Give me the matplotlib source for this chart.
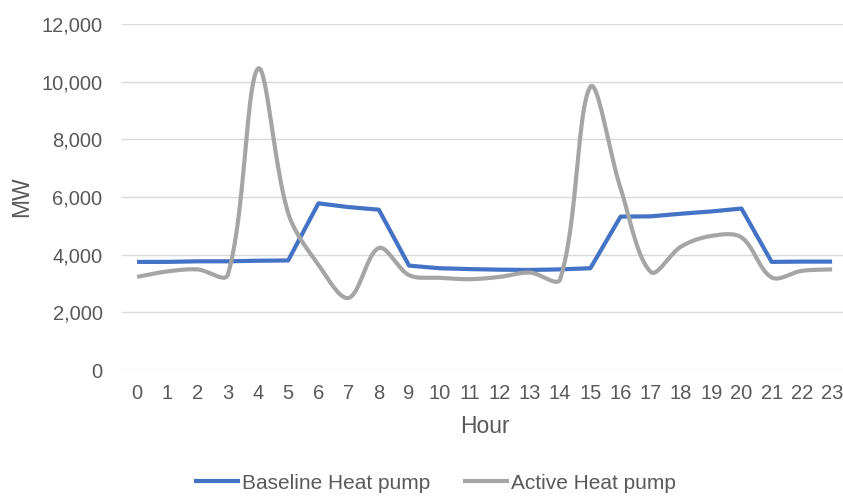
import numpy as np
import matplotlib
matplotlib.use("Agg")
import matplotlib.pyplot as plt
from matplotlib.ticker import FuncFormatter

hours = list(range(24))
baseline = [3750, 3750, 3770, 3770, 3790, 3800, 5780, 5650, 5560, 3620, 3530, 3500,
            3480, 3470, 3490, 3530, 5320, 5330, 5420, 5500, 5600, 3750, 3760, 3760]
active = [3230, 3420, 3490, 3300, 10450, 5440, 3650, 2500, 4230, 3290, 3200, 3150,
          3230, 3380, 3150, 9820, 6300, 3400, 4280, 4650, 4600, 3210, 3440, 3490]

BLUE = "#4472C4"
GRAY = "#A5A5A5"
TXT = "#595959"


def smooth(ax, x, y, n=40, s=1 / 3):
    # Excel-like smoothed line: bezier with control points scaled by
    # neighbouring segment lengths (in display space) to limit overshoot
    pts = ax.transData.transform(np.column_stack([x, y]))
    m = len(pts)
    out = []
    t = np.linspace(0, 1, n)[:, None]
    for i in range(m - 1):
        p0, p3 = pts[i], pts[i + 1]
        d = np.linalg.norm(p3 - p0)
        if i > 0:
            dp = np.linalg.norm(p0 - pts[i - 1])
            c1 = p0 + (p3 - pts[i - 1]) * s * d / (dp + d)
        else:
            c1 = p0 + (p3 - p0) * s
        if i + 2 < m:
            dn = np.linalg.norm(pts[i + 2] - p3)
            c2 = p3 - (pts[i + 2] - p0) * s * d / (d + dn)
        else:
            c2 = p3 - (p3 - p0) * s
        seg = (1 - t) ** 3 * p0 + 3 * (1 - t) ** 2 * t * c1 + 3 * (1 - t) * t ** 2 * c2 + t ** 3 * p3
        out.append(seg)
    out = ax.transData.inverted().transform(np.vstack(out))
    return out[:, 0], out[:, 1]


plt.rcParams["font.family"] = ["Liberation Sans", "DejaVu Sans"]

fig = plt.figure(figsize=(8.43, 4.96), dpi=100)
ax = fig.add_axes([0.1447, 0.254, 0.8603, 0.6976])
ax.set_xlim(-0.5, 23.5)
ax.set_ylim(0, 12000)

ax.plot(hours, baseline, color=BLUE, lw=3.0, solid_capstyle="butt", label="Baseline Heat pump")
sx, sy = smooth(ax, hours, active)
ax.plot(sx, sy, color=GRAY, lw=3.0, solid_capstyle="butt", label="Active Heat pump")

ax.set_yticks(range(0, 12001, 2000))
ax.yaxis.set_major_formatter(FuncFormatter(lambda v, p: f"{int(v):,}"))
ax.set_xticks(hours)
ax.grid(axis="y", color="#D9D9D9", lw=1)
ax.set_axisbelow(True)
for sp in ax.spines.values():
    sp.set_visible(False)
ax.tick_params(axis="both", length=0, labelsize=14.5, colors=TXT)
ax.tick_params(axis="y", pad=14)
ax.tick_params(axis="x", pad=10)
ax.set_xlabel("Hour", fontsize=16.5, color=TXT, labelpad=9)
ax.set_ylabel("MW", fontsize=16.5, color=TXT, labelpad=6)

fig.legend(loc="center", bbox_to_anchor=(0.516, 0.026), ncol=2, frameon=False,
           fontsize=15, labelcolor=TXT, handlelength=2.2, handletextpad=0.1,
           columnspacing=1.6)

fig.savefig("out.png", dpi=100)
